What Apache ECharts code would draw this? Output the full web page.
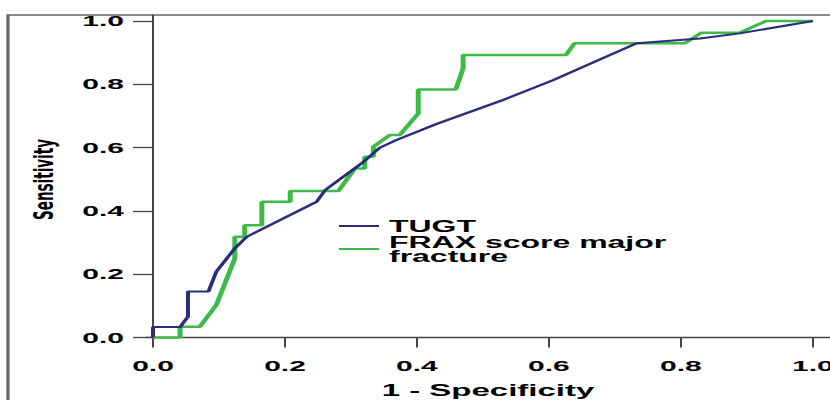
<!DOCTYPE html>
<html>
<head>
<meta charset="utf-8">
<script src="https://cdn.jsdelivr.net/npm/echarts@6/dist/echarts.min.js"></script>
<style>
  html, body { margin: 0; padding: 0; background: #fff; overflow: hidden; }
  /* the original picture is stretched ~2x horizontally, so draw at half width and stretch */
  #chart { width: 415px; height: 400px; transform: scaleX(2); transform-origin: 0 0; }
</style>
</head>
<body>
<div id="chart"></div>
<script>
const tickValues = [0, 0.2, 0.4, 0.6, 0.8, 1.0];

// TUGT ROC curve
const tugtX = [0, 0, 0.041, 0.053, 0.053, 0.084, 0.096, 0.124, 0.142, 0.248, 0.261, 0.316, 0.344, 0.369, 0.43, 0.53, 0.606, 0.733, 0.829, 0.889, 1.0];
const tugtY = [0, 0.033, 0.033, 0.066, 0.145, 0.145, 0.208, 0.282, 0.318, 0.429, 0.466, 0.55, 0.6, 0.624, 0.675, 0.75, 0.813, 0.93, 0.945, 0.961, 1.0];

// FRAX score major fracture ROC curve
const fraxX = [0, 0.041, 0.041, 0.071, 0.096, 0.124, 0.124, 0.139, 0.139, 0.165, 0.165, 0.208, 0.208, 0.281, 0.306, 0.321, 0.321, 0.334, 0.334, 0.359, 0.374, 0.402, 0.402, 0.459, 0.47, 0.47, 0.626, 0.639, 0.806, 0.831, 0.889, 0.929, 1.0];
const fraxY = [0, 0, 0.034, 0.034, 0.103, 0.25, 0.318, 0.318, 0.355, 0.355, 0.429, 0.429, 0.463, 0.463, 0.534, 0.534, 0.571, 0.571, 0.603, 0.64, 0.64, 0.708, 0.784, 0.784, 0.851, 0.893, 0.893, 0.93, 0.93, 0.963, 0.963, 1.0, 1.0];

const zip = (xs, ys) => xs.map((x, i) => [x, ys[i]]);

const chart = echarts.init(document.getElementById('chart'), null, { renderer: 'svg' });

const labelStyle = {
  color: '#000',
  fontFamily: 'Liberation Sans',
  fontWeight: 'bold',
  fontSize: 15
};

const option = {
  animation: false,
  backgroundColor: '#fff',
  grid: { left: 73, right: 0, top: 15, bottom: 56, outerBoundsMode: 'none' },
  graphic: [{
    type: 'rect',
    shape: { x: 4, y: 15, width: 600, height: 600 },
    style: { fill: 'none', stroke: '#666', lineWidth: 1.6 },
    silent: true,
    z: 0
  }],
  legend: {
    orient: 'vertical',
    left: 169.5,
    top: 218,
    padding: 0,
    icon: 'rect',
    itemWidth: 20,
    itemHeight: 2,
    itemGap: 0,
    textStyle: {
      color: '#000',
      fontFamily: 'Liberation Sans',
      fontWeight: 'bold',
      fontSize: 16,
      lineHeight: 14
    },
    data: ['TUGT', 'FRAX score major\nfracture']
  },
  xAxis: {
    type: 'value',
    min: -0.0106,
    max: 1.026,
    name: '1 - Specificity',
    nameLocation: 'middle',
    nameGap: 38,
    nameTextStyle: {
      color: '#000',
      fontFamily: 'Liberation Sans',
      fontWeight: 'bold',
      fontSize: 16.5
    },
    axisLine: { lineStyle: { color: '#444', width: 1.3 } },
    axisTick: { show: true, length: 10, customValues: tickValues, lineStyle: { color: '#444', width: 1 } },
    axisLabel: Object.assign({ margin: 14, customValues: tickValues, formatter: v => v.toFixed(1) }, labelStyle),
    splitLine: { show: false }
  },
  yAxis: {
    type: 'value',
    min: -0.0205,
    max: 1.019,
    name: 'Sensitivity',
    nameLocation: 'middle',
    nameGap: 44,
    nameTextStyle: {
      color: '#000',
      fontFamily: 'DejaVu Sans',
      fontWeight: 'bold',
      fontSize: 13.5
    },
    axisLine: { show: true, lineStyle: { color: '#444', width: 1 } },
    axisTick: { show: true, length: 10, customValues: tickValues, lineStyle: { color: '#444', width: 1.3 } },
    axisLabel: Object.assign({ margin: 11, customValues: tickValues, formatter: v => v.toFixed(1) }, labelStyle),
    splitLine: { show: false }
  },
  series: [{
    name: 'TUGT',
    type: 'line',
    symbol: 'none',
    color: '#2b2d7c',
    lineStyle: { width: 2, color: '#2b2d7c' },
    data: zip(tugtX, tugtY),
    z: 3
  }, {
    name: 'FRAX score major\nfracture',
    type: 'line',
    symbol: 'none',
    color: '#3dba48',
    lineStyle: { width: 2.5, color: '#3dba48' },
    data: zip(fraxX, fraxY),
    z: 2
  }]
};

chart.setOption(option);
</script>
</body>
</html>
